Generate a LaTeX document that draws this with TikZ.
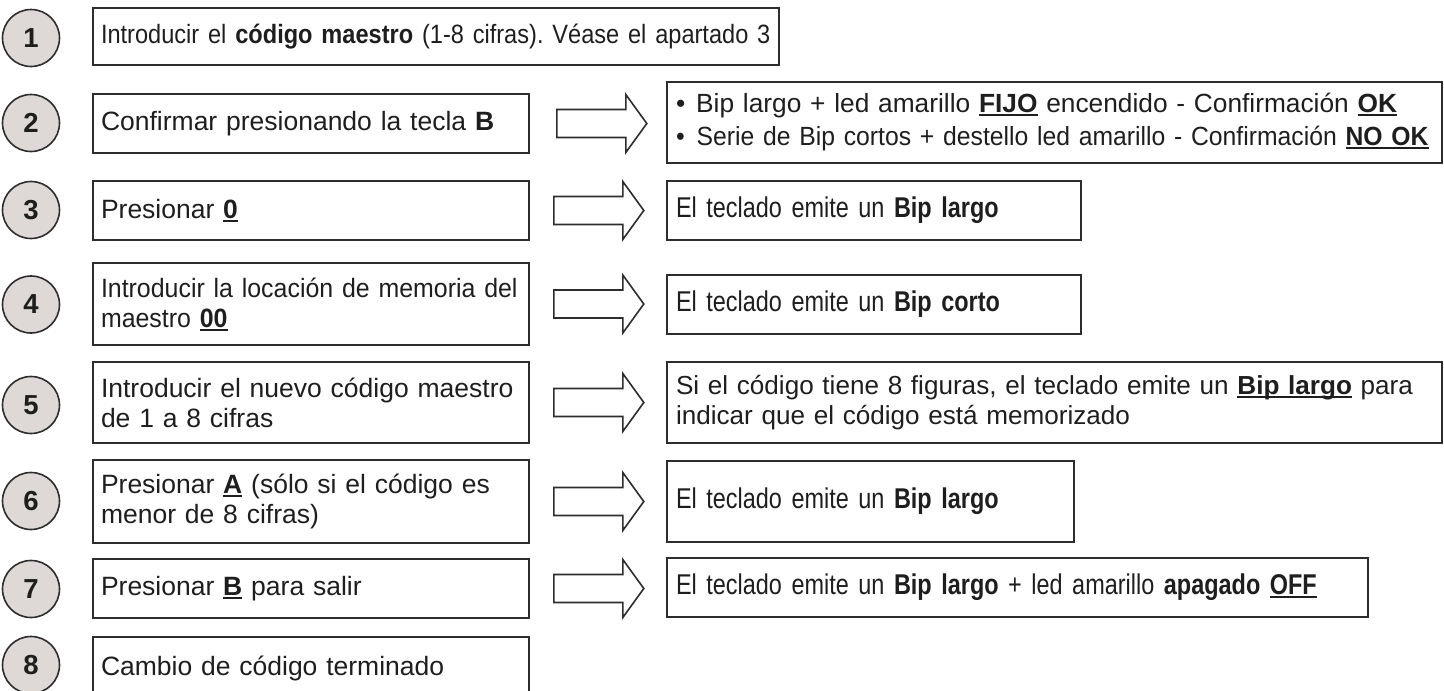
\documentclass[tikz,border=0pt]{standalone}
\usepackage{fontspec}
\setmainfont{Liberation Sans}
\newfontfamily\narrowfont[FakeStretch=0.82]{Liberation Sans}
\newfontfamily\semifont[FakeStretch=0.89]{Liberation Sans}
\newfontfamily\slightfont[FakeStretch=0.94]{Liberation Sans}
\usetikzlibrary{calc}
\frenchspacing
\definecolor{linec}{RGB}{45,45,45}
\definecolor{textc}{RGB}{30,30,30}
\definecolor{circfill}{RGB}{222,217,214}
\newcommand\myul[1]{\setbox0\hbox{#1}\rlap{\rule[-3.5pt]{\wd0}{2pt}}\box0\relax}
\newcommand\fullsize{\fontsize{26.5}{30}\selectfont}
\newcommand\narrowsize{\narrowfont\fontsize{28.6}{32}\selectfont}
\tikzset{
  boxbase/.style={draw=linec, line width=1.6pt, inner xsep=8pt, inner ysep=0pt,
    text=textc, align=left, font=\fullsize},
  numc/.style={circle, draw=linec, line width=1.6pt, fill=circfill, minimum size=57pt,
    inner sep=0pt, text=textc, font=\bfseries\fontsize{27.5}{30}\selectfont},
  leftbox/.style={boxbase, minimum width=436pt, text width=420pt},
  rbox/.style={boxbase, inner xsep=9pt},
  narrowtext/.style={font=\narrowsize},
  arrowline/.style={draw=linec, line width=1.6pt, fill=white, line join=miter},
  pics/blockarr/.style={code={
    \draw[arrowline] (0,-14) -- (69,-14) -- (69,-29) -- (90,0) -- (69,29) -- (69,14) -- (0,14) -- cycle;}}
}
\begin{document}
\begin{tikzpicture}[x=1pt, y=-1pt]
\useasboundingbox (0,0) rectangle (1444,691);
% step circles
\node[numc] (c1) at (31,38) {1};
\node[numc] (c2) at (31,123) {2};
\node[numc] (c3) at (31,210) {3};
\node[numc] (c4) at (31,304.5) {4};
\node[numc] (c5) at (31,405) {5};
\node[numc] (c6) at (31,501) {6};
\node[numc] (c7) at (31,589) {7};
\node[numc] (c8) at (31,665) {8};
% left boxes
\node[boxbase, font=\semifont\fontsize{26.5}{30}\selectfont, minimum width=686pt, text width=670pt, minimum height=57pt] (L1) at (436,36.5)
  {\mbox{Introducir el \textbf{código maestro} (1-8 cifras). Véase el apartado 3}};
\node[leftbox, minimum height=59pt] (L2) at (311,123.5) {Confirmar presionando la tecla \textbf{B}};
\node[leftbox, minimum height=59pt] (L3) at (311,210.5) {Presionar \myul{\textbf{0}}};
\node[leftbox, font=\slightfont\fontsize{26.5}{30}\selectfont, minimum height=82pt] (L4) at (311,304)
  {\makebox[\hsize][s]{Introducir la locación de memoria del}\\maestro \myul{\textbf{00}}};
\node[leftbox, minimum height=81pt] (L5) at (311,402.5)
  {\makebox[\hsize][s]{Introducir el nuevo código maestro}\\de 1 a 8 cifras};
\node[leftbox, minimum height=83pt] (L6) at (311,501.5)
  {\makebox[\hsize][s]{Presionar \myul{\textbf{A}} (sólo si el código es}\\menor de 8 cifras)};
\node[leftbox, minimum height=59pt] (L7) at (311,588.5) {Presionar \myul{\textbf{B}} para salir};
\node[leftbox, minimum height=63pt] (L8) at (311,668.5) {\raisebox{2pt}{Cambio de código terminado}};
% right boxes
\node[rbox, minimum width=775pt, text width=757pt, minimum height=81pt,
      font=\fontsize{26.3}{33}\selectfont] (R2) at (1054.5,122.5)
  {\mbox{\textbullet\hspace{11pt}Bip largo + led amarillo \myul{\textbf{FIJO}} encendido - Confirmación \myul{\textbf{OK}}}\\
   \mbox{\slightfont\textbullet\hspace{12pt}Serie de Bip cortos + destello led amarillo - Confirmación \myul{\textbf{NO OK}}}};
\node[rbox, narrowtext, minimum width=414pt, text width=396pt, minimum height=59pt] (R3) at (874,210.5)
  {El teclado emite un \textbf{Bip largo}};
\node[rbox, narrowtext, minimum width=414pt, text width=396pt, minimum height=59pt] (R4) at (874,304.5)
  {El teclado emite un \textbf{Bip corto}};
\node[rbox, minimum width=775pt, text width=757pt, minimum height=81pt, font=\fontsize{26.1}{30}\selectfont] (R5) at (1054.5,402.5)
  {Si el código tiene 8 figuras, el teclado emite un \myul{\textbf{Bip largo}} para\\indicar que el código está memorizado};
\node[rbox, narrowtext, minimum width=407pt, text width=389pt, minimum height=81pt] (R6) at (870.5,501.5)
  {El teclado emite un \textbf{Bip largo}};
\node[rbox, narrowtext, minimum width=701pt, text width=683pt, minimum height=59pt] (R7) at (1017.5,587.5)
  {\mbox{El teclado emite un \textbf{Bip largo} + led amarillo \textbf{apagado} \myul{\textbf{OFF}}}};
% block arrows
\pic at ($(L2.east)+(27,0)$) {blockarr};
\pic at ($(L3.east)+(24,0)$) {blockarr};
\pic at ($(L4.east)+(24,0)$) {blockarr};
\pic at ($(L5.east)+(24,0)$) {blockarr};
\pic at ($(L6.east)+(24,0)$) {blockarr};
\pic at ($(L7.east)+(24,0)$) {blockarr};
\end{tikzpicture}
\end{document}
